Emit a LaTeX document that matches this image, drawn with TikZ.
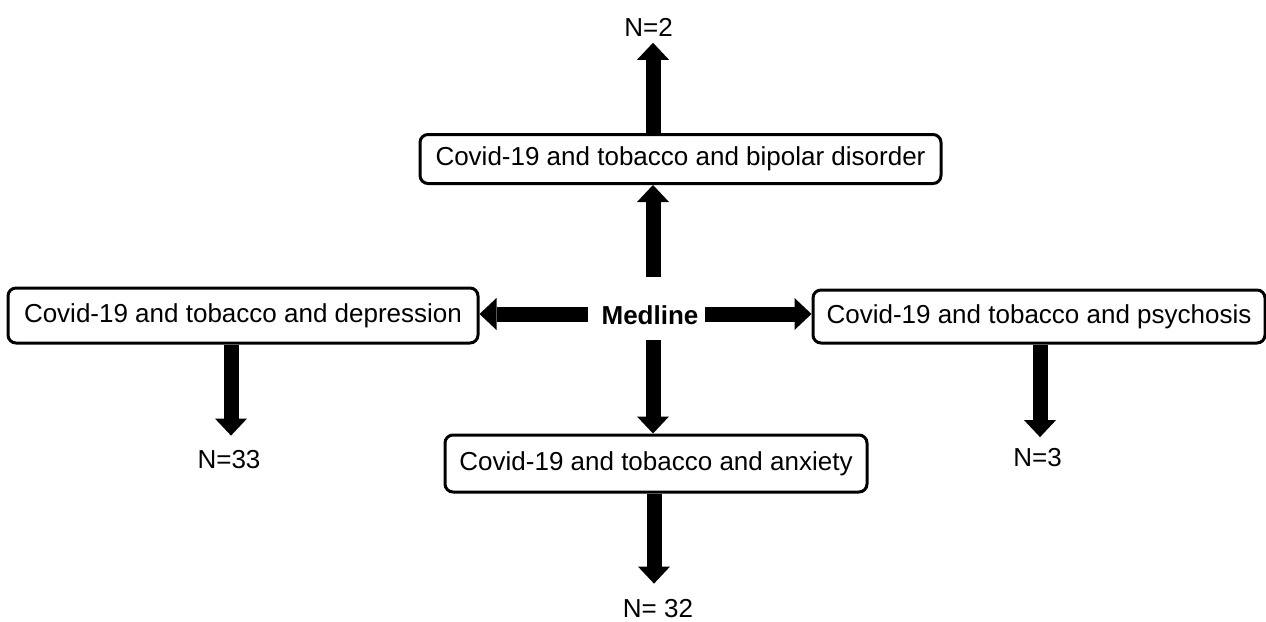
\documentclass[tikz,border=0pt]{standalone}
\usepackage{fontspec}
\setmainfont{Liberation Sans}
\usetikzlibrary{arrows.meta}
\begin{document}
\begin{tikzpicture}[x=1pt,y=-1pt,
  box/.style={draw,line width=3pt,rounded corners=8pt,fill=white,inner sep=0pt,
    font=\fontsize{26}{30}\selectfont},
  lbl/.style={inner sep=0pt,font=\fontsize{26}{30}\selectfont},
  bigarrow/.style={line width=15pt,-{Triangle[width=32pt,length=17pt,line width=0pt]}}]
\useasboundingbox (0,0) rectangle (1266,621);
% boxes
\node[box,minimum width=521pt,minimum height=49pt] (top) at (680.5,159) {Covid-19 and tobacco and bipolar disorder};
\node[box,minimum width=470pt,minimum height=55pt] (left) at (243,315.5) {Covid-19 and tobacco and depression};
\node[box,minimum width=452pt,minimum height=53pt] (right) at (1039,316.5) {Covid-19 and tobacco and psychosis};
\node[box,minimum width=422pt,minimum height=57pt] (bot) at (656,463.5) {Covid-19 and tobacco and anxiety};
\node[lbl,font=\fontsize{26}{30}\selectfont\bfseries] (med) at (650,315) {Medline};
% count labels
\node[lbl] (n2) at (648.5,27.5) {N=2};
\node[lbl] (n33) at (229,460) {N=33};
\node[lbl] (n3) at (1037.5,457.5) {N=3};
\node[lbl] (n32) at (658,609) {N= 32};
% arrow end points around Medline
\coordinate (mU) at (653,277);
\coordinate (mD) at (653,340);
\coordinate (mL) at (588,314);
\coordinate (mR) at (705,314);
\coordinate (aL) at (231,0);
\coordinate (aR) at (1040,0);
\coordinate (aB) at (654,0);
% arrows
\draw[bigarrow] (mU) -- (mU |- top.south);
\draw[bigarrow] (top.north -| mU) -- ([yshift=-6pt]n2.south -| mU);
\draw[bigarrow] (mL) -- (left.east |- mL);
\draw[bigarrow] (mR) -- (right.west |- mR);
\draw[bigarrow] (mD) -- (mD |- bot.north);
\draw[bigarrow] (left.south -| aL) -- ([yshift=15pt]n33.north -| aL);
\draw[bigarrow] (right.south -| aR) -- ([yshift=11pt]n3.north -| aR);
\draw[bigarrow] (bot.south -| aB) -- ([yshift=16pt]n32.north -| aB);
\end{tikzpicture}
\end{document}
